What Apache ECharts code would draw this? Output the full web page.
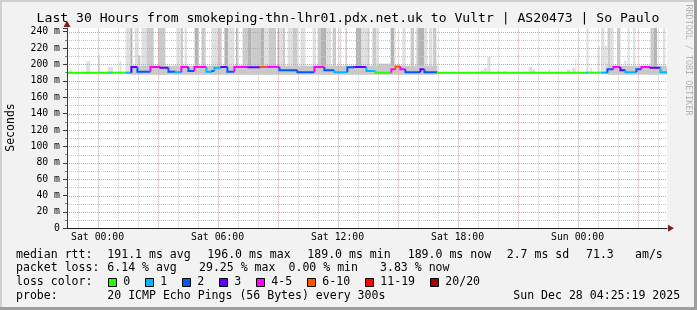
<!DOCTYPE html>
<html><head><meta charset="utf-8">
<script src="https://cdn.jsdelivr.net/npm/echarts@6/dist/echarts.min.js"></script>
<style>html,body{margin:0;padding:0;background:#f2f2f2}#c{width:697px;height:310px}</style>
</head><body><div id="c"></div><script>
// ---------- data ----------
const titleText = 'Last 30 Hours from smokeping-thn-lhr01.pdx.net.uk to Vultr | AS20473 | So Paulo';
// hours relative to Sat 00:00
const timeMin = -1.53, timeMax = 28.47;
const tickHours = [0, 6, 12, 18, 24];
const tickLabels = ['Sat 00:00', 'Sat 06:00', 'Sat 12:00', 'Sat 18:00', 'Sun 00:00'];
const gridHours = [-1,0,1,2,3,4,5,6,7,8,9,10,11,12,13,14,15,16,17,18,19,20,21,22,23,24,25,26,27,28];
const gridMs = [10,20,30,40,50,60,70,80,90,100,110,120,130,140,150,160,170,180,190,200,210,220,230,240];
const yMax = 244.5;

const lossLabels = ['0', '1', '2', '3', '4-5', '6-10', '11-19', '20/20'];
const lossColors = ['#26ff00', '#00b8ff', '#0059ff', '#5e00ff', '#ff00ff', '#ff5500', '#ff0000', '#a10000'];

// median rtt runs (start hour, value ms, loss class); each run ends where the next starts
const medianStart = [-1.53,0.58,0.71,1.39,1.69,1.99,2.64,3.14,3.54,3.89,4.19,4.54,4.84,5.44,5.74,5.84,6.19,6.49,6.84,7.54,8.14,8.44,9.09,9.99,10.84,11.34,11.84,12.49,12.84,13.44,13.89,14.69,14.89,15.14,15.39,16.14,16.34,16.99,24.39,24.54,25.14,25.49,25.79,26.14,26.39,26.94,27.19,27.64,28.14];
const medianValue = [190,190,190,190,197,191,197,196,191,190.5,197,192,197,191,192,196,197,191,197,196.5,197,197,193,190.5,197,193,190.5,196.5,197,192,190,194,197.5,194,190.5,194,190.5,190,190,190,190,194,197,193,190.5,194,197,196,190.5];
const medianLoss  = [0,1,0,1,3,2,4,3,2,1,4,2,4,1,2,1,3,2,4,3,5,4,2,2,4,2,1,2,3,1,0,4,5,4,2,3,2,0,1,0,1,2,4,3,1,2,4,3,1];

// smoke (ping spread) bars: from hour, to hour, top ms, density 0..2
const smokeFrom = [-1.40,-0.57,0.02,0.52,1.10,1.40,1.64,1.85,2.02,2.19,2.44,3.02,3.94,4.14,4.35,4.85,5.19,5.69,6.00,6.34,6.54,6.92,7.25,7.50,7.70,8.17,8.34,8.54,9.00,9.09,9.25,9.50,9.75,10.14,10.75,11.00,11.17,11.42,11.75,12.09,12.40,12.92,13.17,13.49,13.74,13.94,14.04,14.65,14.82,15.24,15.65,15.90,15.99,16.32,16.57,16.77,19.15,19.32,19.49,19.99,20.30,21.55,21.72,22.55,23.47,23.72,23.89,24.44,24.64,25.00,25.17,25.34,25.50,25.64,25.97,26.34,26.50,26.77,27.64,27.80,28.27];
const smokeTo   = [-1.30,-0.37,0.13,0.77,1.19,1.64,1.74,2.02,2.14,2.44,2.80,3.39,4.10,4.27,4.47,5.05,5.40,6.00,6.20,6.54,6.84,7.00,7.50,7.70,8.17,8.34,8.54,8.92,9.09,9.25,9.37,9.75,10.00,10.39,10.92,11.17,11.42,11.67,11.92,12.19,12.45,13.17,13.49,13.59,13.94,14.04,14.65,14.82,14.90,15.40,15.82,15.99,16.32,16.49,16.74,16.94,19.32,19.49,19.65,20.07,20.40,21.72,21.89,22.64,23.64,23.89,23.94,24.55,24.72,25.10,25.34,25.47,25.64,25.80,26.14,26.44,26.60,26.89,27.80,27.97,28.39];
const smokeTop  = [195,204,211,197,204,245,245,245,211,245,245,245,245,245,245,245,245,245,245,245,245,245,245,245,245,245,245,245,245,245,245,245,245,245,245,245,245,245,245,245,245,245,245,245,245,245,201,245,245,245,245,245,245,245,245,245,193,196,209,193,192,197,194,194,194,196,207,245,196,223,245,223,245,245,245,205,245,245,245,245,245];
const smokeDensity = [0,0,0,0,0,0,2,0,1,0,1,1,0,1,0,2,1,0,1,2,0,2,1,2,1,2,0,1,2,0,1,0,1,0,0,1,2,0,1,0,2,2,0,1,1,0,1,2,0,0,1,0,2,0,0,1,0,0,0,0,0,0,0,0,0,0,0,0,0,0,0,0,1,0,1,0,0,0,1,2,0];
const smokeBase = 188;

// dense core of the smoke around the median during lossy periods
const coreFrom = [1.69, 25.48];
const coreTo   = [16.99, 28.47];
const coreLow  = [187.5, 187.5];
const coreHigh = [198.5, 198.5];

// legend text
const legendRows = [
  [['median rtt:', 16], ['191.1 ms avg', 107.3], ['196.0 ms max', 207.3], ['189.0 ms min', 307.3], ['189.0 ms now', 407.7], ['2.7 ms sd', 506.7], ['71.3', 586], ['am/s', 635]],
  [['packet loss:', 16], ['6.14 % avg', 107.3], ['29.25 % max', 199], ['0.00 % min', 288.5], ['3.83 % now', 380]],
  [['loss color:', 16]],
  [['probe:', 16], ['20 ICMP Echo Pings (56 Bytes) every 300s', 107.3], ['Sun Dec 28 04:25:19 2025', 513.3]]
];
const lossBoxX = [108.5, 145.5, 182.5, 219.5, 256.5, 307.5, 365.5, 430.5];

// ---------- chart ----------
const mono = '"DejaVu Sans Mono", monospace';
const smokeColors = ['#e0e0e0', '#cbcbcb', '#b4b4b4'];
const gridRed = '#e69a9a', gridGrey = '#c8c8c8';

const smokeData = smokeFrom.map((f, i) => [f, smokeTo[i], smokeTop[i], smokeDensity[i]]);
const coreData = coreFrom.map((f, i) => [f, coreTo[i], coreLow[i], coreHigh[i]]);
const medianData = medianStart.map((s, i) => [s, i + 1 < medianStart.length ? medianStart[i + 1] : timeMax, medianValue[i], i > 0 ? medianValue[i - 1] : medianValue[i], medianLoss[i]]);
// grid lines: [orientation 0=vertical 1=horizontal, value, major?]
const gridData = gridHours.map(h => [0, h, ((h % 3) + 3) % 3 === 0 ? 1 : 0])
  .concat(gridMs.map(v => [1, v, v % 20 === 0 ? 1 : 0]));

function clipTo(params, r) {
  const cs = params.coordSys;
  return echarts.graphic.clipRectByRect(r, {x: cs.x, y: cs.y, width: cs.width, height: cs.height});
}
function renderSmoke(params, api) {
  const p0 = api.coord([api.value(0), smokeBase]);
  const p1 = api.coord([api.value(1), api.value(2)]);
  const shape = clipTo(params, {x: p0[0], y: p1[1], width: p1[0] - p0[0], height: p0[1] - p1[1]});
  return shape && {type: 'rect', shape, style: {fill: smokeColors[api.value(3)]}};
}
function renderCore(params, api) {
  const p0 = api.coord([api.value(0), api.value(2)]);
  const p1 = api.coord([api.value(1), api.value(3)]);
  const shape = clipTo(params, {x: p0[0], y: p1[1], width: p1[0] - p0[0], height: p0[1] - p1[1]});
  return shape && {type: 'rect', shape, style: {fill: '#c9c9c9'}};
}
function renderGrid(params, api) {
  const kind = api.value(0), v = api.value(1), major = api.value(2);
  let x1, y1, x2, y2;
  if (kind === 0) {
    const a = api.coord([v, 0]), b = api.coord([v, yMax]);
    x1 = x2 = Math.round(a[0]) + 0.5; y1 = a[1]; y2 = b[1];
  } else {
    const a = api.coord([timeMin, v]), b = api.coord([timeMax, v]);
    y1 = y2 = Math.round(a[1]) + 0.5; x1 = a[0]; x2 = b[0];
  }
  return {type: 'line', shape: {x1, y1, x2, y2}, style: {stroke: major ? gridRed : gridGrey, lineWidth: 1, lineDash: [1, 1]}};
}
function renderMedian(params, api) {
  const h0 = api.value(0), h1 = api.value(1), v = api.value(2), prev = api.value(3);
  const a = api.coord([h0, prev]), b = api.coord([h0, v]), e = api.coord([h1, v]);
  return {type: 'polyline', shape: {points: [a, b, e]}, style: {stroke: lossColors[api.value(4)], lineWidth: 2, fill: null}};
}

const graphics = [];
// frame
graphics.push({type: 'rect', shape: {x: 0, y: 0, width: 697, height: 2}, style: {fill: '#cfcfcf'}, silent: true});
graphics.push({type: 'rect', shape: {x: 0, y: 0, width: 2, height: 310}, style: {fill: '#cfcfcf'}, silent: true});
graphics.push({type: 'rect', shape: {x: 694, y: 0, width: 3, height: 310}, style: {fill: '#9e9e9e'}, silent: true});
graphics.push({type: 'rect', shape: {x: 0, y: 307, width: 697, height: 3}, style: {fill: '#9e9e9e'}, silent: true});
// title
graphics.push({type: 'text', x: 348, y: 19, silent: true, style: {text: titleText, font: '13.1px ' + mono, fill: '#000', align: 'center', verticalAlign: 'middle'}});
// y name
graphics.push({type: 'text', x: 11, y: 127.5, rotation: Math.PI / 2, silent: true, style: {text: 'Seconds', font: '11.5px ' + mono, fill: '#000', align: 'center', verticalAlign: 'middle'}});
// watermark
graphics.push({type: 'text', x: 688.5, y: 60, rotation: -Math.PI / 2, silent: true, style: {text: 'RRDTOOL / TOBI OETIKER', font: '8.4px ' + mono, fill: '#b4b4b4', align: 'center', verticalAlign: 'middle'}});
// arrows
graphics.push({type: 'polygon', shape: {points: [[63.5, 27], [70.5, 27], [67, 20.5]]}, style: {fill: '#801f1f'}, silent: true, z: 10});
graphics.push({type: 'polygon', shape: {points: [[668, 224.8], [668, 231.8], [674, 228.3]]}, style: {fill: '#801f1f'}, silent: true, z: 10});
// legend rows
const rowY = [254.5, 268.2, 282, 295.7];
legendRows.forEach((row, r) => row.forEach(([s, x]) => {
  graphics.push({type: 'text', x, y: rowY[r], silent: true, style: {text: s, font: '11.55px ' + mono, fill: '#000', align: 'left', verticalAlign: 'middle'}});
}));
lossLabels.forEach((lab, i) => {
  graphics.push({type: 'rect', shape: {x: lossBoxX[i], y: 278.5, width: 8, height: 8}, style: {fill: lossColors[i], stroke: '#000', lineWidth: 1}, silent: true});
  graphics.push({type: 'text', x: lossBoxX[i] + 14.8, y: rowY[2], silent: true, style: {text: lab, font: '11.55px ' + mono, fill: '#000', align: 'left', verticalAlign: 'middle'}});
});

const chart = echarts.init(document.getElementById('c'), null, {renderer: 'canvas'});
chart.setOption({
  animation: false,
  backgroundColor: '#f2f2f2',
  grid: {left: 67, top: 28, width: 600, height: 200.3, show: true, backgroundColor: '#ffffff', borderWidth: 0},
  xAxis: {
    type: 'value', min: timeMin, max: timeMax, z: 6,
    axisLine: {show: true, onZero: false, lineStyle: {color: '#1f1f1f', width: 1}},
    axisTick: {show: false},
    splitLine: {show: false},
    axisLabel: {
      show: true, customValues: tickHours, margin: 4, color: '#000',
      fontFamily: 'DejaVu Sans Mono', fontSize: 9.8,
      formatter: v => { const i = tickHours.indexOf(Math.round(v)); return i >= 0 ? tickLabels[i] : ''; }
    }
  },
  yAxis: {
    type: 'value', min: 0, max: yMax, interval: 20, z: 6,
    axisLine: {show: true, onZero: false, lineStyle: {color: '#3a3a3a', width: 1}},
    axisTick: {show: true, length: 4, lineStyle: {color: '#3a3a3a'}},
    minorTick: {show: true, splitNumber: 2, length: 2, lineStyle: {color: '#888'}},
    splitLine: {show: false},
    minorSplitLine: {show: false},
    axisLabel: {
      margin: 7, color: '#000', fontFamily: 'DejaVu Sans Mono', fontSize: 9.8, showMaxLabel: false,
      formatter: v => (v % 20 !== 0 ? '' : (v === 0 ? '0' : v + ' m'))
    }
  },
  series: [
    {type: 'custom', z: 1, silent: true, renderItem: renderSmoke, data: smokeData, encode: {x: [0, 1], y: 2}},
    {type: 'custom', z: 1, silent: true, renderItem: renderCore, data: coreData, encode: {x: [0, 1], y: [2, 3]}},
    {type: 'custom', z: 3, silent: true, renderItem: renderGrid, data: gridData, encode: {x: 1}},
    {type: 'custom', z: 5, silent: true, renderItem: renderMedian, data: medianData, encode: {x: [0, 1], y: 2}}
  ],
  graphic: graphics
});
</script></body></html>
